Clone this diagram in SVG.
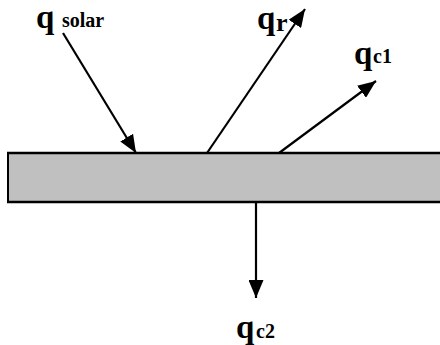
<svg xmlns="http://www.w3.org/2000/svg" width="440" height="345" viewBox="0 0 440 345">
<style>
.lbl{font-family:"Liberation Serif","Times New Roman",serif;font-weight:bold;fill:#000}
.big{font-size:33px}
.sub{font-size:20px}
.mid{font-size:26px}
.conn line{stroke:#000;stroke-width:2.2;fill:none}
</style>
<defs>
<marker id="ah" markerUnits="userSpaceOnUse" markerWidth="18" markerHeight="15" refX="18" refY="7.5" orient="auto">
<path d="M0,0 L18,7.5 L0,15 z" fill="#000"/>
</marker>
</defs>
<rect width="440" height="345" fill="#fff"/>
<g id="plate">
<rect x="8" y="153" width="440" height="49" fill="#c0c0c0"/>
<line x1="7" y1="153" x2="440" y2="153" stroke="#000" stroke-width="2.5"/>
<line x1="7" y1="202" x2="440" y2="202" stroke="#000" stroke-width="2.5"/>
<line x1="8" y1="152" x2="8" y2="203" stroke="#000" stroke-width="2"/>
</g>
<g class="conn" id="connectors">
<line x1="63" y1="33" x2="136" y2="153" marker-end="url(#ah)"/>
<line x1="207" y1="153" x2="305" y2="9" marker-end="url(#ah)"/>
<line x1="279" y1="153" x2="376" y2="81" marker-end="url(#ah)"/>
<line x1="256" y1="202" x2="256" y2="298" marker-end="url(#ah)"/>
</g>
<g id="q_solar">
<text class="lbl big" x="36" y="28">q</text>
<text class="lbl sub" x="62" y="27">solar</text>
</g>
<g id="q_r">
<text class="lbl big" x="257" y="29">q</text>
<text class="lbl mid" x="276" y="31">r</text>
</g>
<g id="q_c1">
<text class="lbl big" x="354" y="64">q</text>
<text class="lbl sub" x="373" y="63">c1</text>
</g>
<g id="q_c2">
<text class="lbl big" x="236" y="338">q</text>
<text class="lbl sub" x="256" y="338">c2</text>
</g>
</svg>
